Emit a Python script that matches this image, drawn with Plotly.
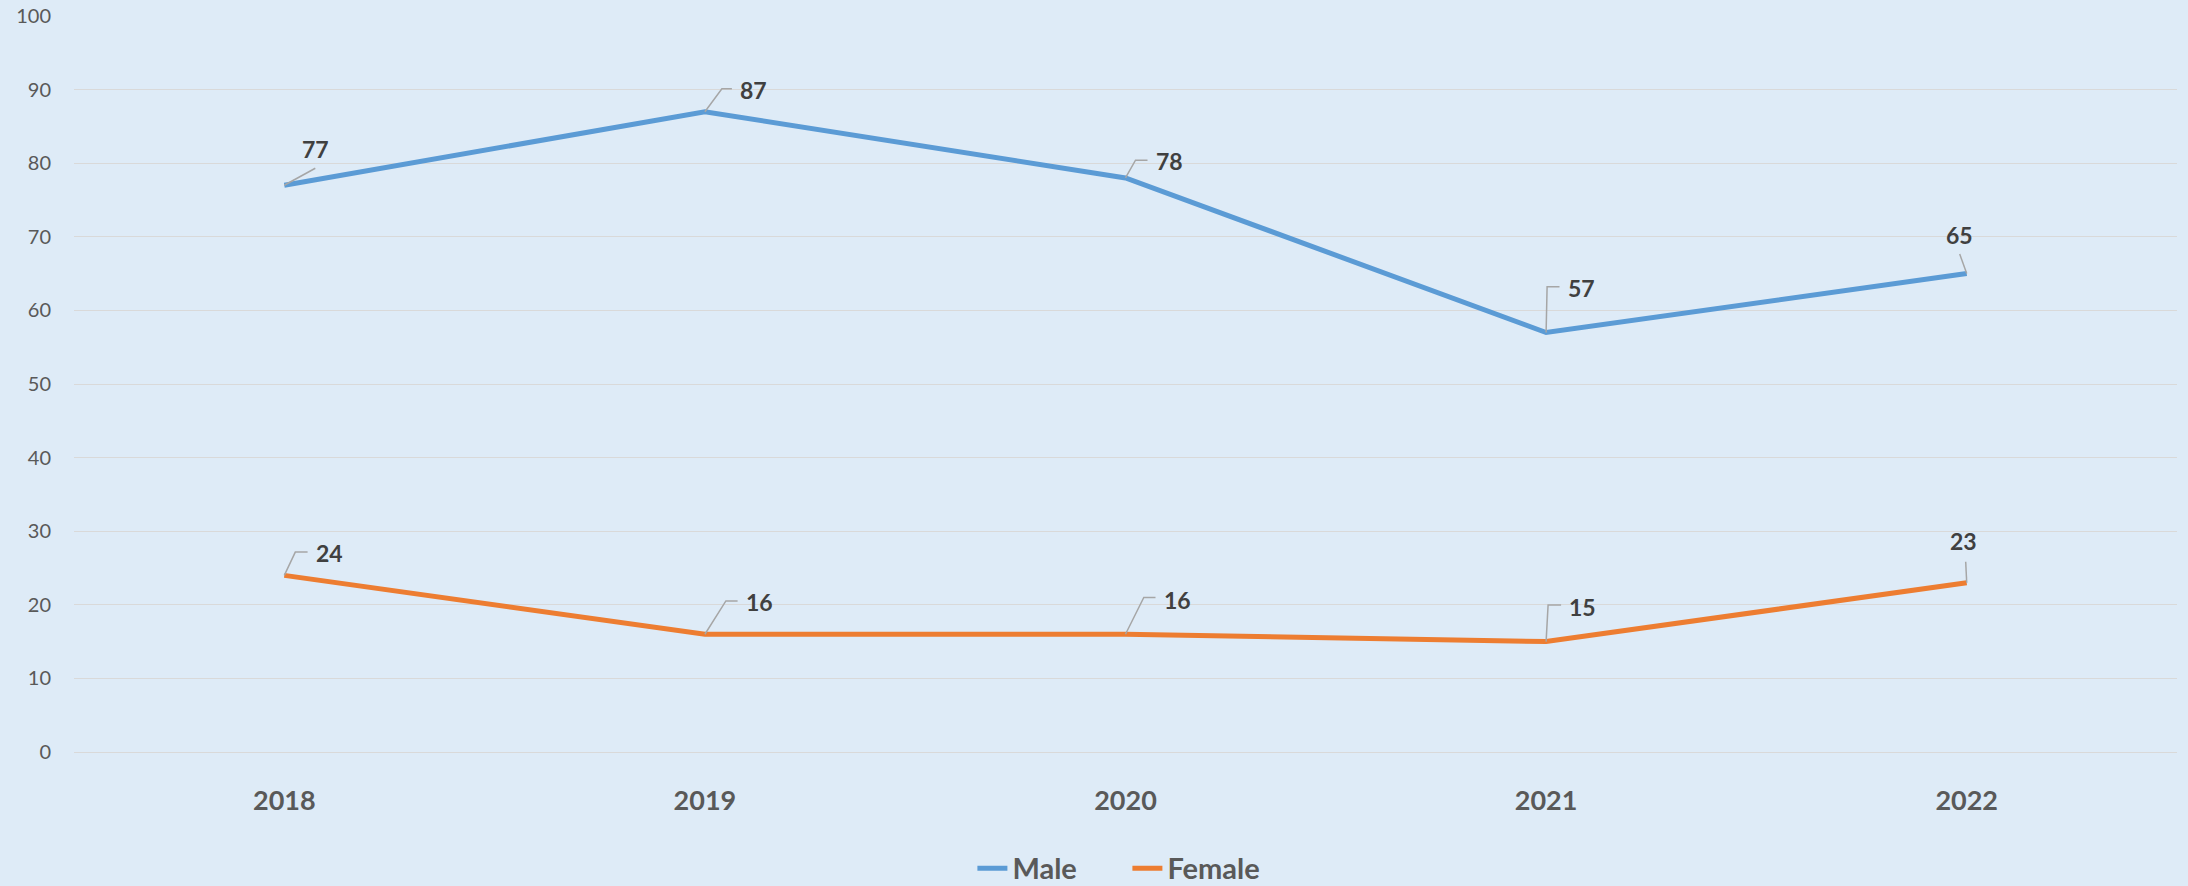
import plotly.graph_objects as go

years = ["2018", "2019", "2020", "2021", "2022"]
male = [77, 87, 78, 57, 65]
female = [24, 16, 16, 15, 23]

# label placement (pixel offsets from point: text centre dx, dy; leader path)
male_label_off = [(31, 36), (49, 21.5), (43.7, 16.7), (35.4, 44.7), (-7.3, 38.8)]
male_leader = ["M0,0 L31,17", "M0,0 L17,23 L27,23", "M0,0 L10,17.7 L22,17.7",
               "M0,0 L1,45.7 L13.4,45.7", "M0,0 L-7,19.5"]
female_label_off = [(45.2, 22.2), (54.7, 32.3), (51.8, 34.7), (36.3, 34.7), (-3, 41.5)]
female_leader = ["M0,0 L11,23.3 L23.3,23.3", "M0,0 L21,33.3 L32.7,33.3",
                 "M0,0 L18.3,36.7 L30,36.7", "M0,0 L2,36.7 L15,36.7", "M0,0 L-1,21"]

BLUE = "#5B9BD5"
ORANGE = "#ED7D31"
BG = "#DEEBF7"
FONT = "Lato"

xs = list(range(len(years)))

fig = go.Figure()
fig.add_trace(go.Scatter(x=xs, y=male, mode="lines", name="Male",
                         line=dict(color=BLUE, width=5), hoverinfo="skip"))
fig.add_trace(go.Scatter(x=xs, y=female, mode="lines", name="Female",
                         line=dict(color=ORANGE, width=5), hoverinfo="skip"))

annotations = []
shapes = []
for series, offs, leaders in ((male, male_label_off, male_leader),
                              (female, female_label_off, female_leader)):
    for i, v in enumerate(series):
        dx, dy = offs[i]
        annotations.append(dict(x=xs[i], y=v, xref="x", yref="y", text=f"<b>{v}</b>",
                                showarrow=False, xshift=dx, yshift=dy,
                                font=dict(family=FONT, size=23, color="#404040")))
        shapes.append(dict(type="path", xref="x", yref="y",
                           xsizemode="pixel", ysizemode="pixel",
                           xanchor=xs[i], yanchor=v, path=leaders[i],
                           line=dict(color="#A6A6A6", width=1.5), layer="above"))

fig.update_layout(
    width=2188, height=886,
    margin=dict(l=74, r=11, t=16, b=134, autoexpand=False),
    paper_bgcolor=BG, plot_bgcolor=BG,
    font=dict(family=FONT, color="#595959"),
    showlegend=True,
    legend=dict(orientation="h", x=0.4272, xanchor="left", y=-0.158, yanchor="middle",
                font=dict(family=FONT, size=29, color="#595959", weight="bold"),
                entrywidth=110, entrywidthmode="pixels",
                bgcolor="rgba(0,0,0,0)", itemwidth=30, tracegroupgap=0),
    annotations=annotations,
    shapes=shapes,
)
fig.update_xaxes(range=[-0.5, 4.5], tickvals=xs, ticktext=years, showgrid=False,
                 zeroline=False, showline=False, ticks="", automargin=False,
                 tickfont=dict(family=FONT, size=27, color="#595959", weight="bold"),
                 ticklabelstandoff=30, fixedrange=True)
fig.update_yaxes(range=[0, 100], dtick=10, showgrid=True, gridcolor="#D9D9D9", gridwidth=1.3,
                 zeroline=True, zerolinecolor="#D9D9D9", zerolinewidth=1.3, showline=False,
                 ticks="", automargin=False, tickfont=dict(family=FONT, size=20, color="#595959"),
                 ticklabelstandoff=22, fixedrange=True)

fig.write_html(
    "out.html",
    config={"displayModeBar": False},
    post_script="document.body.style.margin='0px';document.body.style.overflow='hidden';"
                "document.body.style.background='" + BG + "';",
)
